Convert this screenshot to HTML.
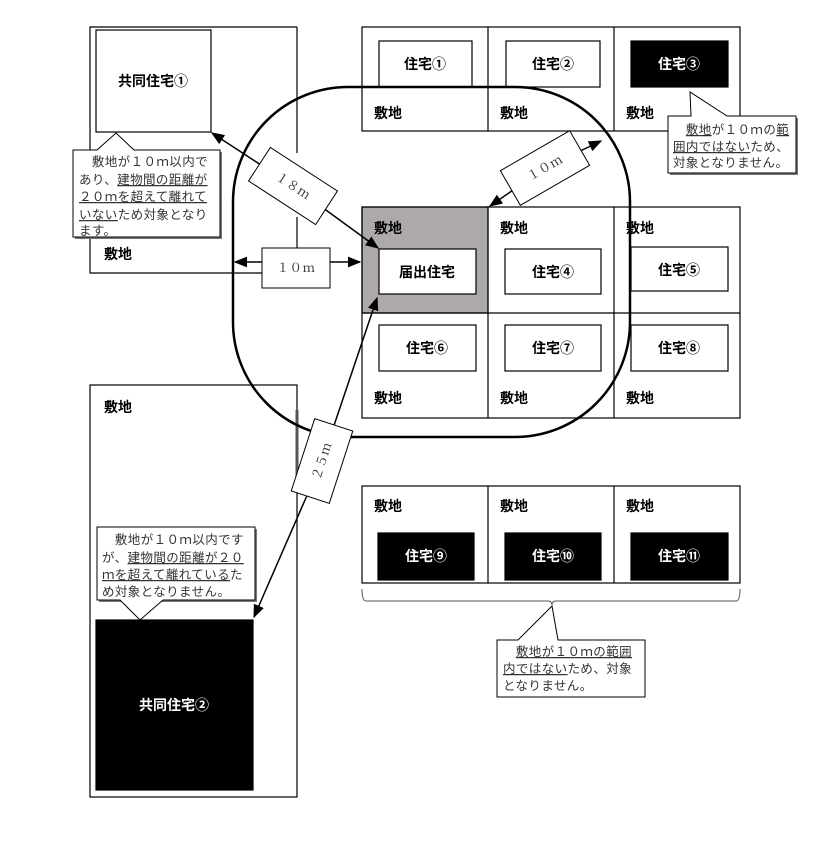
<!DOCTYPE html>
<html><head><meta charset="utf-8"><style>
body{margin:0;background:#fff}
text{font-family:"Liberation Sans","Noto Sans CJK JP",sans-serif}
.b{font-size:14px;font-weight:bold}
.s{font-family:"Liberation Serif","Noto Serif CJK SC",serif;font-size:12.5px;fill:#333;letter-spacing:0.4px}
.u{text-decoration:underline}
</style></head><body>
<svg width="836" height="840" viewBox="0 0 836 840" xmlns="http://www.w3.org/2000/svg">
<defs><marker id="a" viewBox="0 0 10 10" refX="9" refY="5" markerWidth="9" markerHeight="9" orient="auto-start-reverse"><path d="M0,1 L10,5 L0,9z" fill="#000"/></marker></defs>
<g fill="none" stroke="#000" stroke-width="1.2">
<path d="M297,27 H90 V273 H262 M297,27 V153 M297,217 V248"/>
<rect x="96" y="30" width="115" height="102" fill="#fff"/>
<rect x="362" y="27" width="378" height="104"/>
<path d="M488,27V131 M614,27V131"/>
<rect x="379" y="41" width="93" height="46"/>
<rect x="506" y="41" width="94" height="46"/>
<rect x="631" y="41" width="97" height="46" fill="#000"/>
<rect x="362" y="207" width="126" height="106" fill="#ada9a8"/>
<rect x="362" y="207" width="378" height="211"/>
<path d="M362,313H740 M488,207V418 M614,207V418"/>
<rect x="379" y="249" width="97" height="45" fill="#fff"/>
<rect x="505" y="249" width="96" height="45"/>
<rect x="631" y="247" width="97" height="44"/>
<rect x="379" y="325" width="97" height="46"/>
<rect x="505" y="325" width="96" height="46"/>
<rect x="631" y="325" width="97" height="46"/>
<rect x="362" y="486" width="378" height="97"/>
<path d="M488,486V583 M614,486V583"/>
<rect x="378" y="533" width="96" height="47" fill="#000"/>
<rect x="505" y="533" width="96" height="47" fill="#000"/>
<rect x="631" y="533" width="97" height="47" fill="#000"/>
<path d="M362,589 q0,12 4,12 H548 q4,0 4,4 q0,-4 4,-4 H736 q4,0 4,-12" stroke-width="1" stroke="#555"/>
<rect x="90" y="385" width="207" height="412"/>
<rect x="96" y="620" width="157" height="170" fill="#000"/>
<path d="M297,410V487" stroke="#555" stroke-width="3"/>
</g>
<rect x="233" y="87" width="397" height="350" rx="115" ry="115" fill="none" stroke="#000" stroke-width="2.5"/>
<g stroke="#000" stroke-width="1.5" fill="none">
<line x1="262" y1="262" x2="235" y2="262" marker-end="url(#a)"/>
<line x1="330" y1="262" x2="360" y2="262" marker-end="url(#a)"/>
<line x1="293" y1="186" x2="212" y2="133" marker-end="url(#a)"/>
<line x1="293" y1="186" x2="378" y2="248" marker-end="url(#a)"/>
<line x1="545" y1="168" x2="490" y2="206" marker-end="url(#a)"/>
<line x1="545" y1="168" x2="601" y2="141" marker-end="url(#a)"/>
<line x1="322" y1="461" x2="377" y2="298" marker-end="url(#a)"/>
<line x1="322" y1="461" x2="254" y2="617" marker-end="url(#a)"/>
</g>
<rect x="262" y="248" width="68" height="40" fill="#fff" stroke="#000"/>
<text class="s" x="296" y="272" text-anchor="middle" fill="#000">１０ｍ</text>
<g transform="translate(293,186) rotate(33)"><rect x="-40" y="-20" width="80" height="40" fill="#fff" stroke="#000"/><text class="s" x="0" y="4" text-anchor="middle">１８ｍ</text></g>
<g transform="translate(545,168) rotate(-30)"><rect x="-40" y="-20" width="80" height="40" fill="#fff" stroke="#000"/><text class="s" x="0" y="4" text-anchor="middle">１０ｍ</text></g>
<g transform="translate(322,461) rotate(-72)"><rect x="-38" y="-20" width="76" height="40" fill="#fff" stroke="#000"/><text class="s" x="0" y="4" text-anchor="middle">２５ｍ</text></g>
<g stroke="#000" fill="#fff">
<rect x="75" y="152" width="147" height="87" fill="#777" stroke="none"/>
<path d="M73,150 H97 L116,133 L134,150 H220 V237 H73Z"/>
<rect x="99" y="529" width="158" height="73" fill="#777" stroke="none"/>
<path d="M97,527 H255 V600 H163 L140,620 L120,600 H97Z"/>
<rect x="670" y="118" width="128" height="57" fill="#777" stroke="none"/>
<path d="M668,116 H691 L690,92 L727,116 H796 V173 H668Z"/>
<path d="M497,640 H518 L552,606 L558,640 H645 V697 H497Z"/>
</g>
<g class="s">
<text x="79" y="166">　敷地が１０ｍ以内で</text>
<text x="79" y="184">あり、<tspan class="u">建物間の距離が</tspan></text>
<text x="79" y="201"><tspan class="u">２０ｍを超えて離れて</tspan></text>
<text x="79" y="219"><tspan class="u">いない</tspan>ため対象となり</text>
<text x="79" y="235">ます。</text>
<text x="102" y="544">　敷地が１０ｍ以内です</text>
<text x="102" y="562">が、<tspan class="u">建物間の距離が２０</tspan></text>
<text x="102" y="579"><tspan class="u">ｍを超えて離れている</tspan>た</text>
<text x="102" y="596">め対象となりません。</text>
<text x="673" y="134">　<tspan class="u">敷地</tspan>が１０ｍの<tspan class="u">範</tspan></text>
<text x="673" y="151"><tspan class="u">囲内ではない</tspan>ため、</text>
<text x="673" y="167">対象となりません。</text>
<text x="503" y="656">　<tspan class="u">敷地が１０ｍの範囲</tspan></text>
<text x="503" y="673"><tspan class="u">内ではない</tspan>ため、対象</text>
<text x="503" y="690">となりません。</text>
</g>
<g class="b">
<text x="153" y="86" text-anchor="middle">共同住宅①</text>
<text x="425" y="69" text-anchor="middle">住宅①</text>
<text x="553" y="69" text-anchor="middle">住宅②</text>
<text x="679" y="69" text-anchor="middle" fill="#fff">住宅③</text>
<text x="374" y="118">敷地</text><text x="500" y="118">敷地</text><text x="626" y="118">敷地</text>
<text x="104" y="259">敷地</text>
<text x="374" y="233">敷地</text><text x="500" y="233">敷地</text><text x="626" y="233">敷地</text>
<text x="427" y="277" text-anchor="middle">届出住宅</text>
<text x="553" y="277" text-anchor="middle">住宅④</text>
<text x="679" y="275" text-anchor="middle">住宅⑤</text>
<text x="427" y="353" text-anchor="middle">住宅⑥</text>
<text x="553" y="353" text-anchor="middle">住宅⑦</text>
<text x="679" y="353" text-anchor="middle">住宅⑧</text>
<text x="374" y="403">敷地</text><text x="500" y="403">敷地</text><text x="626" y="403">敷地</text>
<text x="104" y="412">敷地</text>
<text x="374" y="511">敷地</text><text x="500" y="511">敷地</text><text x="626" y="511">敷地</text>
<text x="426" y="561" text-anchor="middle" fill="#fff">住宅⑨</text>
<text x="553" y="561" text-anchor="middle" fill="#fff">住宅⑩</text>
<text x="679" y="561" text-anchor="middle" fill="#fff">住宅⑪</text>
<text x="174" y="710" text-anchor="middle" fill="#fff">共同住宅②</text>
</g>
</svg>
</body></html>
